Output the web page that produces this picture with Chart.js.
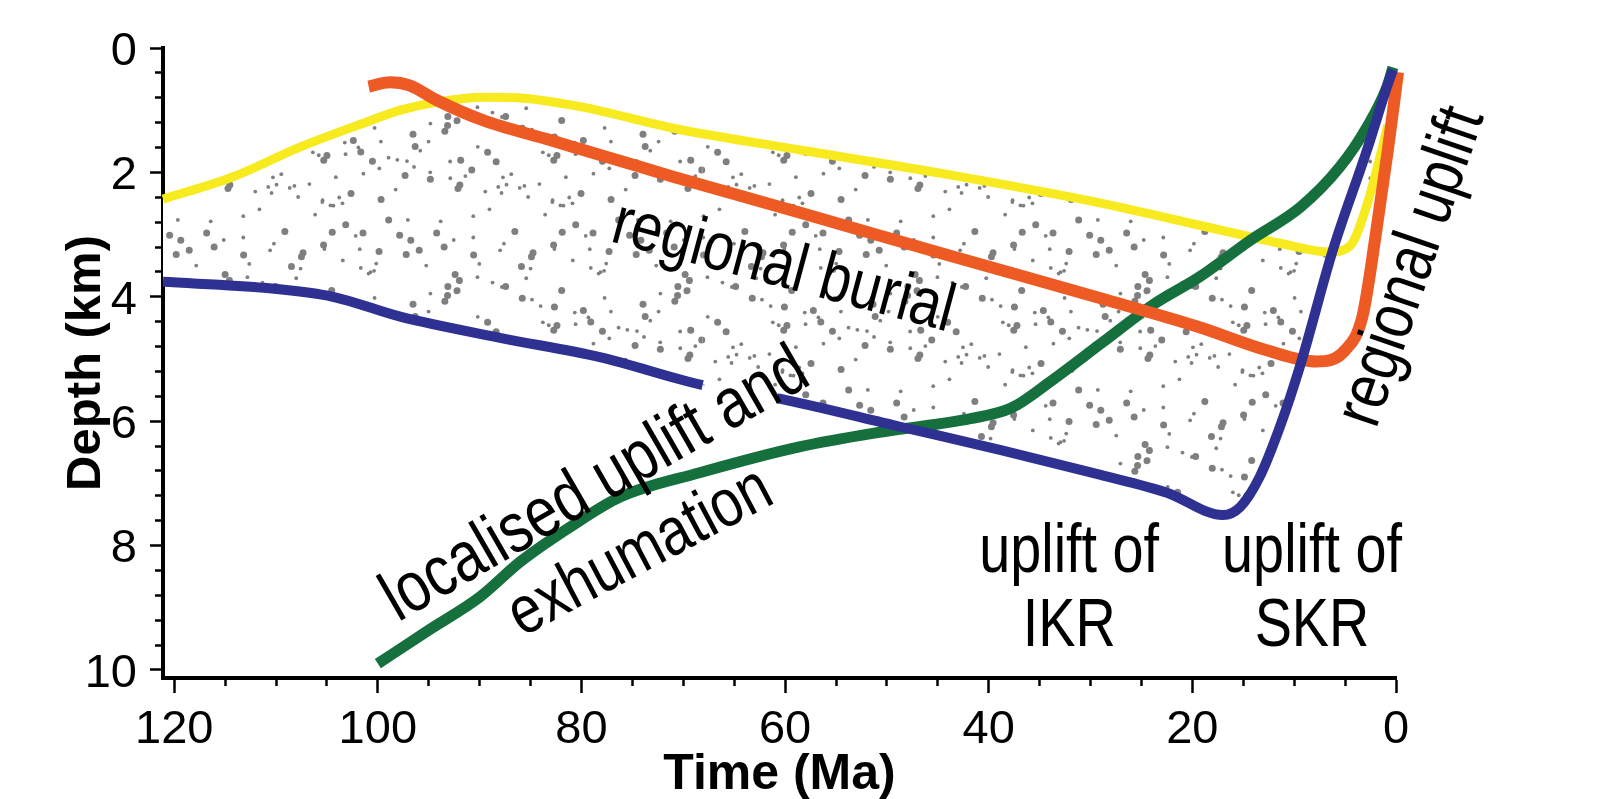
<!DOCTYPE html>
<html>
<head>
<meta charset="utf-8">
<style>
  html, body { margin: 0; padding: 0; background: #ffffff; }
  canvas { display: block; }
</style>
<script src="https://cdn.jsdelivr.net/npm/chart.js@4.4.1/dist/chart.umd.min.js"></script>
</head>
<body>
<canvas id="c" width="1601" height="799"></canvas>
<script>
// ---------------- data (Time in Ma, Depth in km) ----------------
const yellowAge   = [121.1, 114.2, 107.6, 101.1, 97.8, 94.2, 89.7, 86.3, 79.9, 71.0, 58.5, 43.8, 29.1, 19.3, 11.4, 6.5, 4.5, 2.85, 1.4, 0.8];
const yellowDepth = [2.43, 2.07, 1.59, 1.19, 1.00, 0.87, 0.79, 0.80, 0.95, 1.29, 1.64, 2.04, 2.49, 2.85, 3.14, 3.28, 3.18, 2.52, 1.64, 1.24];

const orangeAge   = [100.9, 98.8, 96.9, 94.2, 89.7, 83.1, 76.5, 71.0, 58.5, 43.8, 29.1, 19.3, 12.7, 7.8, 5.0, 3.3, 1.96, 0.8, -0.2];
const orangeDepth = [0.62, 0.55, 0.60, 0.84, 1.16, 1.48, 1.80, 2.07, 2.65, 3.34, 4.02, 4.49, 4.86, 5.04, 4.86, 4.32, 2.97, 1.64, 0.39];

const blueAge   = [121.1, 110.9, 104.4, 97.8, 88.0, 78.2, 68.1, 60.8, 48.7, 38.9, 29.1, 22.5, 17.0, 15.3, 13.4, 11.4, 9.4, 6.2, 2.85, 0.9, 0.3];
const blueDepth = [3.76, 3.86, 4.00, 4.32, 4.66, 4.97, 5.42, 5.63, 6.09, 6.46, 6.86, 7.15, 7.51, 7.38, 6.90, 6.09, 5.10, 3.25, 1.64, 0.63, 0.35];
const blueGap   = [68.1, 60.8];   // interval (Ma) where the blue line is interrupted

const greenAge   = [100.0, 95.0, 90.0, 86.0, 80.9, 76.2, 68.4, 58.5, 50.4, 41.8, 37.8, 34.0, 28.8, 23.8, 19.3, 14.3, 9.4, 5.5, 2.85, 0.9, 0.3];
const greenDepth = [9.90, 9.36, 8.83, 8.26, 7.68, 7.22, 6.83, 6.41, 6.17, 5.96, 5.79, 5.37, 4.73, 4.12, 3.68, 3.09, 2.56, 1.91, 1.27, 0.63, 0.31];

const xMajorTicks = [120, 100, 80, 60, 40, 20, 0];
const xMinorStep = 5;
const yMajorTicks = [0, 2, 4, 6, 8, 10];
const yMinorStep = 0.4;
const xLimits = [0, 121.1];
const yLimits = [0, 10.13];

// annotation texts: [text, age (Ma), depth (km), rotation (deg), font size]
const labels = [
  ['regional burial',       60.2, 3.54,  15, 68],
  ['regional uplift',       -1.6, 3.52, -71, 68],
  ['localised uplift and',  78.6, 7.04, -30, 71],
  ['exhumation',            74.2, 8.12, -28, 68],
  ['uplift of',             32.1, 8.13,   0, 68],
  ['IKR',                   32.1, 9.31,   0, 68],
  ['uplift of',              8.25, 8.13,  0, 68],
  ['SKR',                    8.25, 9.31,  0, 68]
];

// ---------------- styling ----------------
const YELLOW = '#f7ea1f', ORANGE = '#ee5a24', BLUE = '#2e3192', GREEN = '#16703d';
const SANS = "'Liberation Sans', Arial, sans-serif";
const LABEL_SQUEEZE = 0.82;

const xy = (a, d) => a.map((v, i) => ({x: v, y: d[i]}));

function steps(lo, hi, step) {
  const out = [];
  const n = Math.round((hi - lo) / step);
  for (let i = 0; i <= n; i++) out.push(Math.round((lo + i * step) * 1000) / 1000);
  return out;
}
const isIn = (v, arr) => arr.some(m => Math.abs(m - v) < 1e-6);

function makeStipple() {
  const W = 230, H = 170;
  const c = document.createElement('canvas');
  c.width = W; c.height = H;
  const g = c.getContext('2d');
  g.fillStyle = '#ffffff';
  g.fillRect(0, 0, W, H);
  g.fillStyle = '#7f7f7f';
  let s = 20240613;
  const rnd = () => (s = (s * 16807) % 2147483647) / 2147483647;
  for (let i = 0; i < 110; i++) {
    const x = rnd() * W, y = rnd() * H;
    const r = rnd() < 0.33 ? 3.5 : 1.9;
    for (const dx of [-W, 0, W]) for (const dy of [-H, 0, H]) {
      g.beginPath(); g.arc(x + dx, y + dy, r, 0, Math.PI * 2); g.fill();
    }
  }
  return g.createPattern(c, 'repeat');
}
const stipple = makeStipple();

const labelPlugin = {
  id: 'labels',
  afterDatasetsDraw(chart) {
    const {ctx, scales: {x, y}} = chart;
    ctx.save();
    ctx.fillStyle = '#000';
    ctx.textAlign = 'center';
    ctx.textBaseline = 'middle';
    for (const [t, a, d, rot, size] of labels) {
      ctx.save();
      ctx.font = size + 'px ' + SANS;
      ctx.translate(x.getPixelForValue(a), y.getPixelForValue(d));
      ctx.rotate(rot * Math.PI / 180);
      ctx.scale(LABEL_SQUEEZE, 1);
      ctx.fillText(t, 0, 0);
      ctx.restore();
    }
    ctx.restore();
  }
};

const common = {pointRadius: 0, pointHoverRadius: 0, cubicInterpolationMode: 'monotone', clip: false, borderJoinStyle: 'round'};

new Chart(document.getElementById('c'), {
  type: 'line',
  data: {
    datasets: [
      Object.assign({label: 'blue', data: xy(blueAge, blueDepth), borderColor: BLUE, borderWidth: 10, fill: false,
        segment: {borderColor: c => (c.p0.parsed.x <= blueGap[0] + 1e-6 && c.p1.parsed.x >= blueGap[1] - 1e-6) ? 'rgba(0,0,0,0)' : BLUE}}, common),
      Object.assign({label: 'orange', data: xy(orangeAge, orangeDepth), borderColor: ORANGE, borderWidth: 12, fill: false}, common),
      Object.assign({label: 'green', data: xy(greenAge, greenDepth), borderColor: GREEN, borderWidth: 11, fill: false}, common),
      Object.assign({label: 'yellow', data: xy(yellowAge, yellowDepth), borderColor: YELLOW, borderWidth: 9,
        backgroundColor: stipple, fill: {target: 0, above: stipple, below: stipple}}, common)
    ]
  },
  options: {
    responsive: false,
    animation: false,
    events: [],
    layout: {padding: {left: 0, top: 48, right: 205, bottom: 0}},
    plugins: {legend: {display: false}, tooltip: {enabled: false}},
    scales: {
      x: {
        type: 'linear', reverse: true, min: xLimits[0], max: xLimits[1],
        afterBuildTicks: s => { s.ticks = steps(0, 120, xMinorStep).map(v => ({value: v})); },
        afterFit: s => { s.height = 121; },
        border: {display: true, color: '#000', width: 4},
        grid: {drawOnChartArea: false, drawTicks: true, tickLength: 15, tickWidth: 2.5, tickColor: '#000',
               tickBorderDash: c => (c.tick && isIn(c.tick.value, xMajorTicks)) ? [] : [6, 100]},
        ticks: {autoSkip: false, maxRotation: 0, minRotation: 0, padding: 9, color: '#000', includeBounds: false,
                font: {family: SANS, size: 47, lineHeight: 1.2},
                callback: v => isIn(v, xMajorTicks) ? String(v) : ''},
        title: {display: true, text: 'Time (Ma)', color: '#000',
                font: {family: SANS, size: 50, weight: 'bold', lineHeight: 1}, padding: {top: 0, bottom: -1}}
      },
      y: {
        type: 'linear', reverse: true, min: yLimits[0], max: yLimits[1],
        afterBuildTicks: s => { s.ticks = steps(0, 10, yMinorStep).map(v => ({value: v})); },
        afterFit: s => { s.width = 163; },
        border: {display: true, color: '#000', width: 4},
        grid: {drawOnChartArea: false, drawTicks: true, tickLength: 13, tickWidth: 2.5, tickColor: '#000',
               tickBorderDash: c => (c.tick && isIn(c.tick.value, yMajorTicks)) ? [] : [0, 5, 6, 100]},
        ticks: {autoSkip: false, padding: 13, color: '#000', includeBounds: false, labelOffset: 4,
                font: {family: SANS, size: 47},
                callback: v => isIn(v, yMajorTicks) ? String(v) : ''},
        title: {display: true, text: 'Depth (km)', color: '#000',
                font: {family: SANS, size: 49, weight: 'bold', lineHeight: 1}, padding: {top: 62, bottom: 0}}
      }
    }
  },
  plugins: [labelPlugin]
});
</script>
</body>
</html>
